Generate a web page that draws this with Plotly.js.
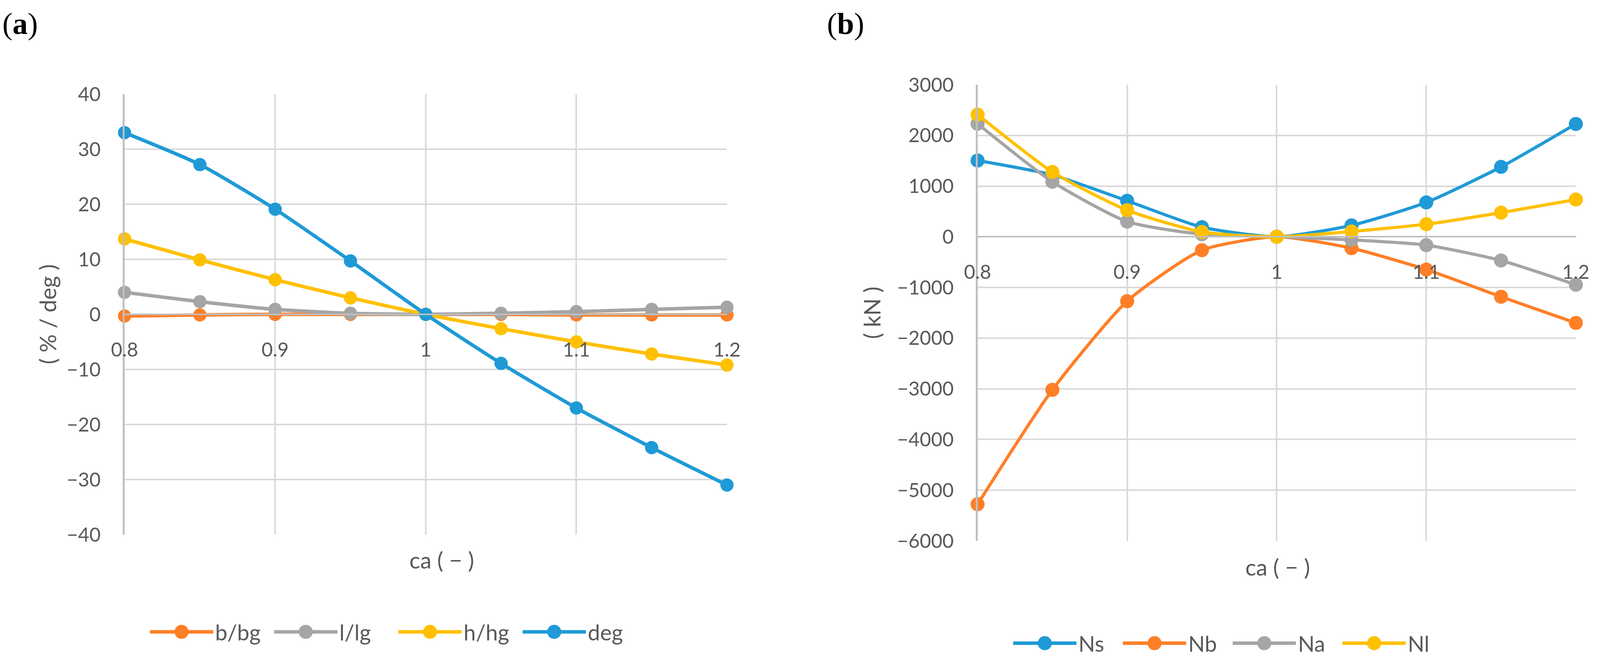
<!DOCTYPE html>
<html>
<head>
<meta charset="utf-8">
<script src="https://cdn.plot.ly/plotly-3.0.1.min.js"></script>
<style>
html,body{margin:0;padding:0;background:#ffffff;overflow:hidden;}
#chart{width:100vw;height:100vh;}
</style>
</head>
<body>
<div id="chart"></div>
<script>
// ---------- data ----------
const ca = [0.8, 0.85, 0.9, 0.95, 1.0, 1.05, 1.1, 1.15, 1.2];

// panel (a)  ( % / deg )
const bbg = [-0.3, -0.1, 0.0, 0.0, 0.0, 0.0, -0.1, -0.1, -0.1];
const llg = [4.0, 2.3, 0.9, 0.2, 0.0, 0.2, 0.5, 0.9, 1.3];
const hhg = [13.7, 9.9, 6.3, 3.0, 0.0, -2.6, -5.0, -7.2, -9.2];
const deg = [33.0, 27.2, 19.1, 9.7, 0.0, -8.9, -17.0, -24.2, -31.0];

// panel (b)  ( kN )
const Ns = [1505, 1220, 710, 190, 0, 225, 678, 1379, 2226];
const Nb = [-5277, -3020, -1271, -265, 0, -225, -647, -1184, -1700];
const Na = [2230, 1086, 300, 50, 0, -60, -165, -468, -946];
const Nl = [2411, 1279, 525, 95, 0, 105, 248, 476, 735];

const namesA = ['b/bg', 'l/lg', 'h/hg', 'deg'];
const namesB = ['Ns', 'Nb', 'Na', 'Nl'];
const xTitle = 'ca ( \u2212 )';
const yTitleA = '( % / deg )';
const yTitleB = '( kN )';

// ---------- styling ----------
// reference frame is 4239 x 1708; fit it to the actual viewport
const W0 = 4239, H0 = 1708;
const W = window.innerWidth || W0, H = window.innerHeight || H0;
const sx = W / W0;
const C = {blue: '#1F9AD6', orange: '#FF7F27', gray: '#A5A5A5', yellow: '#FFC000'};
const FONT = 'Lato, "Open Sans", sans-serif';
const TXT = '#595959';
const GRID = '#D9D9D9';
const AXL = '#BFBFBF';
const px = v => v / W0;
const py = v => 1 - v / H0;

const boxA = {l: 330, r: 1926, t: 241, b: 1369};
const boxB = {l: 2590, r: 4175, t: 217, b: 1385};
const rangeA = [-40, 40];
const rangeB = [-6000, 3000];
function zeroPos(box, rng) {
  const d0 = py(box.b), d1 = py(box.t);
  return d0 + (0 - rng[0]) / (rng[1] - rng[0]) * (d1 - d0);
}

function tr(y, name, color, xa, ya, leg, msize, lw) {
  return {
    x: ca, y: y, name: name, type: 'scatter', mode: 'lines+markers',
    xaxis: xa, yaxis: ya, legend: leg, cliponaxis: false,
    line: {color: color, width: lw, shape: 'spline', smoothing: 0.6},
    marker: {color: color, size: msize}
  };
}

const data = [
  tr(bbg, namesA[0], C.orange, 'x', 'y', 'legend', 34, 9),
  tr(llg, namesA[1], C.gray, 'x', 'y', 'legend', 34, 9),
  tr(hhg, namesA[2], C.yellow, 'x', 'y', 'legend', 34, 9),
  tr(deg, namesA[3], C.blue, 'x', 'y', 'legend', 34, 9),
  tr(Ns, namesB[0], C.blue, 'x2', 'y2', 'legend2', 36, 8),
  tr(Nb, namesB[1], C.orange, 'x2', 'y2', 'legend2', 36, 8),
  tr(Na, namesB[2], C.gray, 'x2', 'y2', 'legend2', 36, 8),
  tr(Nl, namesB[3], C.yellow, 'x2', 'y2', 'legend2', 36, 8)
];

function xAxis(box, rng) {
  return {
    domain: [px(box.l), px(box.r)], range: [0.8, 1.2], tick0: 0.8, dtick: 0.1,
    anchor: 'free', position: zeroPos(box, rng),
    showgrid: true, gridcolor: GRID, gridwidth: 4,
    showline: true, linecolor: AXL, linewidth: 4,
    zeroline: false, ticks: '', ticklabelstandoff: 46,
    tickfont: {family: FONT, size: 50, color: TXT},
    fixedrange: true
  };
}
function yAxis(box, rng, dt, xName) {
  return {
    domain: [py(box.b), py(box.t)], range: rng, dtick: dt, anchor: xName,
    showgrid: true, gridcolor: GRID, gridwidth: 4,
    showline: true, linecolor: AXL, linewidth: 5, mirror: false,
    zeroline: false, ticks: '', ticklabelstandoff: 46,
    tickfont: {family: FONT, size: 50, color: TXT},
    fixedrange: true
  };
}

const legFont = {family: FONT, size: 56, color: TXT};
const annFont = {family: FONT, size: 58, color: TXT};
const layout = {
  width: W, height: H,
  margin: {l: 0, r: 0, t: 0, b: 0, pad: 0},
  paper_bgcolor: '#ffffff', plot_bgcolor: '#ffffff',
  showlegend: true,
  xaxis: xAxis(boxA, rangeA),
  yaxis: yAxis(boxA, rangeA, 10, 'x'),
  xaxis2: xAxis(boxB, rangeB),
  yaxis2: yAxis(boxB, rangeB, 1000, 'x2'),
  legend: {
    orientation: 'h', x: px(392), y: py(1618), xanchor: 'left', yanchor: 'middle',
    font: legFont, itemwidth: Math.round(168 * sx), entrywidth: Math.round(146 * sx), entrywidthmode: 'pixels',
    bgcolor: 'rgba(0,0,0,0)'
  },
  legend2: {
    orientation: 'h', x: px(2679), y: py(1647), xanchor: 'left', yanchor: 'middle',
    font: legFont, itemwidth: Math.round(168 * sx), entrywidth: Math.round(108 * sx), entrywidthmode: 'pixels',
    bgcolor: 'rgba(0,0,0,0)'
  },
  annotations: [
    {text: '(<b>a</b>)', x: px(53), y: py(60), xref: 'paper', yref: 'paper', showarrow: false,
     xanchor: 'center', yanchor: 'middle', font: {family: '"Liberation Serif", serif', size: 78, color: '#000'}},
    {text: '(<b>b</b>)', x: px(2240), y: py(60), xref: 'paper', yref: 'paper', showarrow: false,
     xanchor: 'center', yanchor: 'middle', font: {family: '"Liberation Serif", serif', size: 78, color: '#000'}},
    {text: yTitleA, x: px(125), y: py(805), xref: 'paper', yref: 'paper', showarrow: false,
     textangle: -90, xanchor: 'center', yanchor: 'middle', font: annFont},
    {text: yTitleB, x: px(2309), y: py(801), xref: 'paper', yref: 'paper', showarrow: false,
     textangle: -90, xanchor: 'center', yanchor: 'middle', font: annFont},
    {text: xTitle, x: px(1170), y: py(1433), xref: 'paper', yref: 'paper', showarrow: false,
     xanchor: 'center', yanchor: 'middle', font: annFont},
    {text: xTitle, x: px(3385), y: py(1451), xref: 'paper', yref: 'paper', showarrow: false,
     xanchor: 'center', yanchor: 'middle', font: annFont}
  ]
};

Plotly.newPlot('chart', data, layout, {staticPlot: true, displayModeBar: false}).then(function (gd) {
  gd.querySelectorAll('g.legendlines path').forEach(function (p) {
    p.style.strokeWidth = '9px';
  });
  var r = 18;
  var circ = 'M' + r + ',0A' + r + ',' + r + ' 0 1,1 0,-' + r + 'A' + r + ',' + r + ' 0 0,1 ' + r + ',0Z';
  gd.querySelectorAll('g.legendpoints path.scatterpts').forEach(function (p) {
    p.setAttribute('d', circ);
  });
});
</script>
</body>
</html>
